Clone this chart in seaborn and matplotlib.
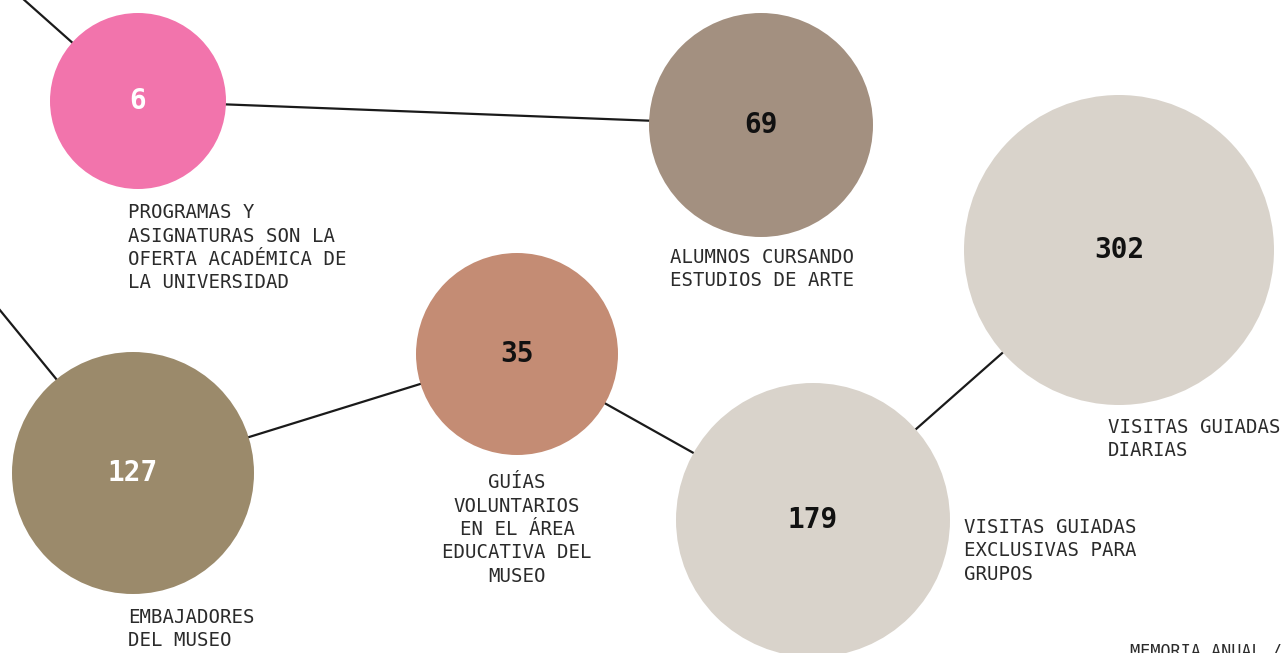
import numpy as np
import pandas as pd
import matplotlib
matplotlib.use('Agg')
import matplotlib.pyplot as plt
import seaborn as sns

### data
nodes = ['programas', 'alumnos', 'diarias', 'guias', 'embajadores', 'grupos']
values = [6, 69, 302, 35, 127, 179]
labels = ['PROGRAMAS Y\nASIGNATURAS SON LA\nOFERTA ACADÉMICA DE\nLA UNIVERSIDAD',
          'ALUMNOS CURSANDO\nESTUDIOS DE ARTE',
          'VISITAS GUIADAS\nDIARIAS',
          'GUÍAS\nVOLUNTARIOS\nEN EL ÁREA\nEDUCATIVA DEL\nMUSEO',
          'EMBAJADORES\nDEL MUSEO',
          'VISITAS GUIADAS\nEXCLUSIVAS PARA\nGRUPOS']
footer = 'MEMORIA ANUAL /'

### layout (pixel coords on a 1285x653 canvas)
pos_x = [138, 761, 1119, 517, 133, 813]
pos_y = [101, 125, 250, 354, 473, 520]
radius = [88, 112, 155, 101, 121, 137]
colors = ['#F274AC', '#A39080', '#D9D3CB', '#C48C74', '#9B8A6B', '#D9D3CB']
num_colors = ['white', '#111111', '#111111', '#111111', 'white', '#111111']
# label anchor: (x, y top, ha)
lab_pos = [(128, 203, 'left'), (762, 248, 'center'), (1108, 418, 'left'),
           (517, 473, 'center'), (128, 608, 'left'), (964, 518, 'left')]
edges = [((-50, -66), 0), (0, 1), ((-50, 249), 4), (4, 3), (3, 5), (5, 2)]

df = pd.DataFrame({'node': nodes, 'value': values, 'x': pos_x, 'y': pos_y, 'r': radius})
dpi = 100
# marker area in pt^2 from pixel radius
size_map = {n: (2 * r * 72 / dpi) ** 2 for n, r in zip(nodes, radius)}
pal = dict(zip(nodes, colors))

fig = plt.figure(figsize=(12.85, 6.53), dpi=dpi)
ax = fig.add_axes([0, 0, 1, 1])

def pt(e):
    if isinstance(e, tuple):
        return e
    return (pos_x[e], pos_y[e])

for a, b in edges:
    p, q = pt(a), pt(b)
    ax.plot([p[0], q[0]], [p[1], q[1]], color='#1a1a1a', lw=1.6, zorder=1)

sns.scatterplot(data=df, x='x', y='y', hue='node', palette=pal, size='node',
                sizes=size_map, legend=False, linewidth=0, ax=ax, zorder=2)

for i in range(len(nodes)):
    ax.text(pos_x[i], pos_y[i], str(values[i]), ha='center', va='center',
            fontsize=20, fontweight='bold', family='DejaVu Sans Mono',
            color=num_colors[i], zorder=3)
    lx, ly, ha = lab_pos[i]
    ax.text(lx, ly, labels[i], ha=ha, va='top', multialignment=ha,
            fontsize=13.7, family='DejaVu Sans Mono', color='#2b2b2b',
            linespacing=1.3, zorder=3)

ax.text(1130, 643, footer, ha='left', va='top', fontsize=12.2,
        family='DejaVu Sans Mono', color='#2b2b2b')

ax.set_xlim(0, 1285)
ax.set_ylim(653, 0)
ax.axis('off')
plt.savefig('out.png', dpi=dpi)
